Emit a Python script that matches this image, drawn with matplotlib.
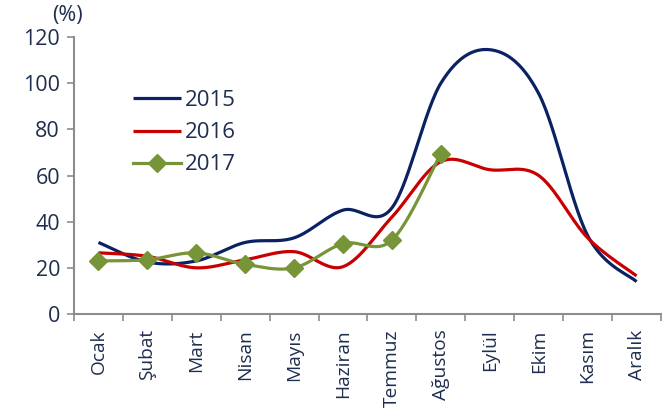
import numpy as np
import matplotlib.pyplot as plt

months = ['Ocak', 'Şubat', 'Mart', 'Nisan', 'Mayıs', 'Haziran', 'Temmuz',
          'Ağustos', 'Eylül', 'Ekim', 'Kasım', 'Aralık']
y2015 = [31, 22.5, 23, 31, 33, 45, 46, 100, 114.5, 95.5, 34, 14]
y2016 = [26.5, 25, 20, 23.5, 27, 20.5, 42, 66, 62.5, 60, 33, 16.5]
y2017 = [23, 23.5, 26.5, 21.5, 20, 30.5, 32, 69.5]

colors = {'2015': '#0A2264', '2016': '#C80000', '2017': '#779438'}
text_color = '#1F2E4E'


def smooth(xs, ys, n=30):
    # Bezier smoothing through every point, like spreadsheet "smoothed line"
    xs = np.asarray(xs, float)
    ys = np.asarray(ys, float)
    px = np.concatenate([[xs[0]], xs, [xs[-1]]])
    py = np.concatenate([[ys[0]], ys, [ys[-1]]])
    out_x, out_y = [], []
    t = np.linspace(0, 1, n)
    for i in range(1, len(px) - 2):
        p0 = np.array([px[i], py[i]])
        p3 = np.array([px[i + 1], py[i + 1]])
        c1 = p0 + (np.array([px[i + 1], py[i + 1]]) - np.array([px[i - 1], py[i - 1]])) / 6
        c2 = p3 - (np.array([px[i + 2], py[i + 2]]) - np.array([px[i], py[i]])) / 6
        b = ((1 - t) ** 3)[:, None] * p0 + (3 * (1 - t) ** 2 * t)[:, None] * c1 \
            + (3 * (1 - t) * t ** 2)[:, None] * c2 + (t ** 3)[:, None] * p3
        out_x.extend(b[:, 0])
        out_y.extend(b[:, 1])
    return out_x, out_y


plt.rcParams['font.family'] = ['Open Sans', 'DejaVu Sans']

fig = plt.figure(figsize=(6.62, 4.17), dpi=100)
ax = fig.add_axes([74 / 662, 1 - 314 / 417, 587 / 662, 277 / 417])

x = np.arange(len(months))
for label, ys in [('2015', y2015), ('2016', y2016)]:
    sx, sy = smooth(x[:len(ys)], ys)
    ax.plot(sx, sy, color=colors[label], lw=2.3, label=label,
            solid_capstyle='butt')

sx, sy = smooth(x[:len(y2017)], y2017)
ax.plot(sx, sy, color=colors['2017'], lw=2.3, solid_capstyle='butt')
ax.plot(x[:len(y2017)], y2017, ls='none', marker='D', ms=9,
        color=colors['2017'])
ax.plot([], [], color=colors['2017'], lw=2.3, marker='D', ms=9, label='2017')

ax.set_xlim(-0.5, 11.5)
ax.set_ylim(0, 120)
ax.set_yticks(range(0, 121, 20))
ax.set_xticks(np.arange(-0.5, 12, 1))
ax.set_xticklabels([])
ax.set_xticks(x, minor=True)
ax.set_xticklabels(months, minor=True, rotation=90, fontsize=13.8,
                   color=text_color)
ax.tick_params(axis='x', which='minor', length=0, pad=11)
ax.tick_params(axis='x', which='major', length=5, color='#8C8C8C', width=1.2)
ax.tick_params(axis='y', length=5, color='#8C8C8C', width=1.2,
               labelsize=15.5, labelcolor=text_color, pad=5)

for side in ['top', 'right']:
    ax.spines[side].set_visible(False)
for side in ['left', 'bottom']:
    ax.spines[side].set_color('#8C8C8C')
    ax.spines[side].set_linewidth(1.5)

ax.legend(loc='upper left', bbox_to_anchor=(0.085, 0.84), frameon=False,
          fontsize=16, handlelength=2.15, labelspacing=0.5,
          handletextpad=0.2, labelcolor=text_color, borderaxespad=0)

fig.text(52 / 662, 1 - 15 / 417, '(%)', fontsize=15.5, color=text_color,
         va='center', ha='left')

fig.savefig('out.png', dpi=100)
